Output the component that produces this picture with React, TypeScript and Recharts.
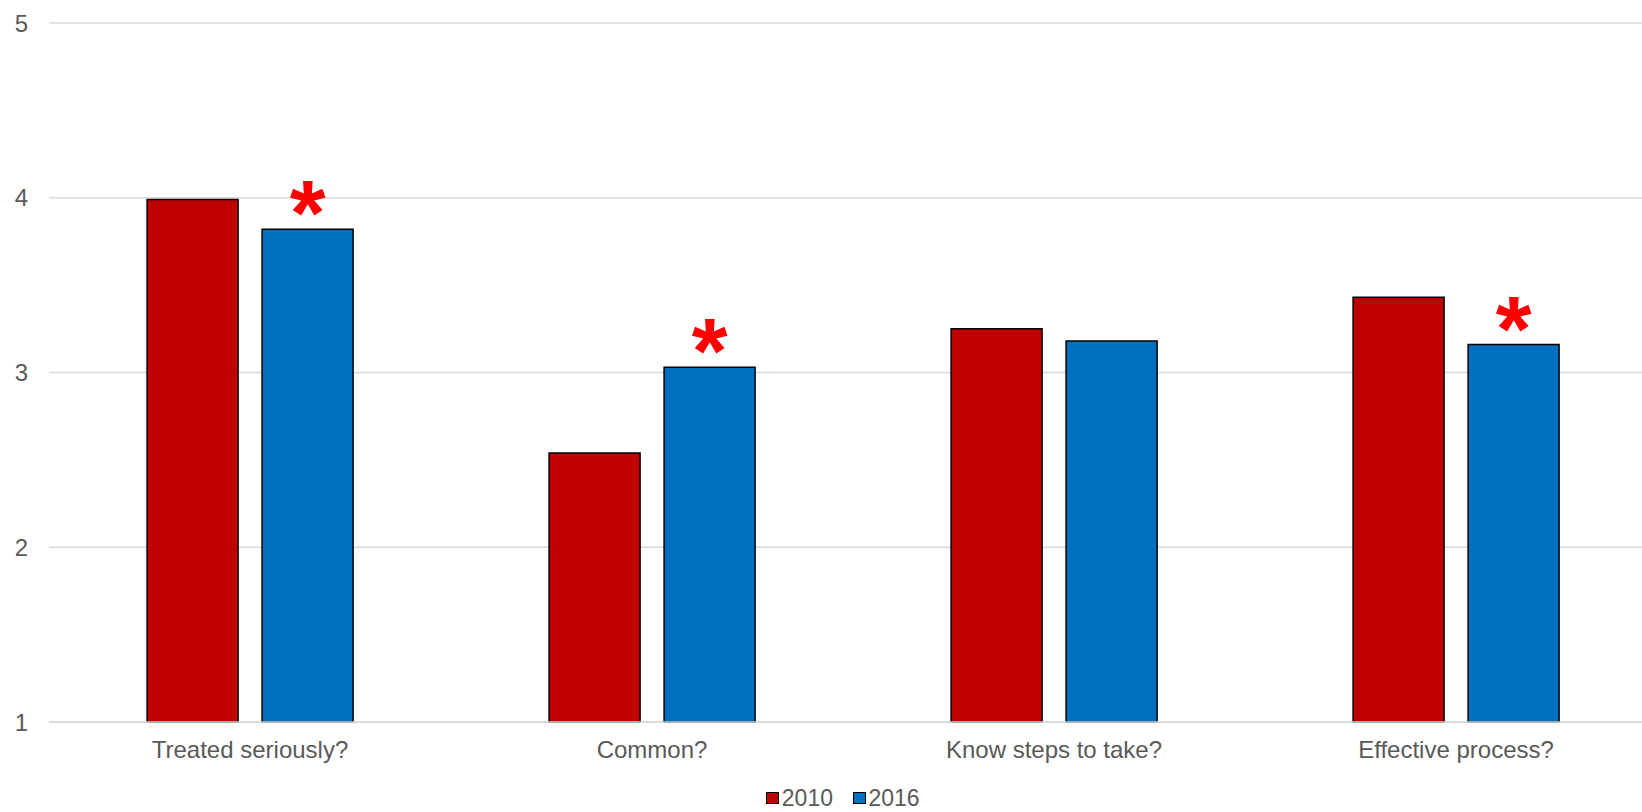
import React from 'react';
import { BarChart, Bar, XAxis, YAxis, CartesianGrid, Legend, LabelList } from 'recharts';

const categories = ['Treated seriously?', 'Common?', 'Know steps to take?', 'Effective process?'];
const values2010 = [3.99, 2.54, 3.25, 3.43];
const values2016 = [3.82, 3.03, 3.18, 3.16];
const significant = [true, true, false, true];
const yTicks = [1, 2, 3, 4, 5];

const data = categories.map((c, i) => ({ name: c, y2010: values2010[i], y2016: values2016[i] }));

const TEXT = '#595959';
const FONT = 'Liberation Sans, Arial, sans-serif';

const Star = (props: any) => {
  const { x, y, width, index } = props;
  if (!significant[index]) return null;
  return (
    <text x={x + width / 2} y={y + 16} textAnchor="middle" fill="#ff0000" fontSize={92} fontWeight="bold" fontFamily={FONT}>
      *
    </text>
  );
};

const LegendContent = () => (
  <div style={{ height: 36, boxSizing: 'border-box', paddingTop: 8, paddingLeft: 29, display: 'flex', justifyContent: 'center', alignItems: 'center', fontFamily: FONT, fontSize: 23, color: TEXT }}>
    {[
      { label: '2010', color: '#c00000' },
      { label: '2016', color: '#0070c0' },
    ].map((it, i) => (
      <div key={it.label} style={{ display: 'flex', alignItems: 'center', marginLeft: i ? 20 : 0, height: 28 }}>
        <span style={{ width: 10.5, height: 10.5, background: it.color, border: '1.5px solid #000', display: 'inline-block', marginRight: 3 }} />
        <span style={{ lineHeight: '28px' }}>{it.label}</span>
      </div>
    ))}
  </div>
);

export default function App() {
  return (
    <div style={{ position: 'absolute', left: 0, top: 0, width: 1642, height: 812, background: '#fff', overflow: 'hidden' }}>
      <BarChart width={1657} height={812} data={data} margin={{ top: 23, right: 0, bottom: 0, left: 0 }} barCategoryGap="24.4%" barGap={24}>
        <CartesianGrid horizontal vertical={false} stroke="#d9d9d9" strokeWidth={1.5} />
        <XAxis dataKey="name" axisLine={{ stroke: '#d9d9d9', strokeWidth: 1.5 }} tickLine={false} tickSize={0} tickMargin={19} height={54} tick={{ fill: TEXT, fontSize: 24, fontFamily: FONT }} interval={0} />
        <YAxis domain={[1, 5]} ticks={yTicks} axisLine={false} tickLine={false} tickSize={0} tickMargin={21} width={49} tick={{ fill: TEXT, fontSize: 24, fontFamily: FONT }} />
        <Legend verticalAlign="bottom" content={<LegendContent />} />
        <Bar dataKey="y2010" name="2010" fill="#c00000" stroke="#000" strokeWidth={1.5} isAnimationActive={false} />
        <Bar dataKey="y2016" name="2016" fill="#0070c0" stroke="#000" strokeWidth={1.5} isAnimationActive={false}>
          <LabelList dataKey="y2016" content={<Star />} />
        </Bar>
      </BarChart>
    </div>
  );
}
